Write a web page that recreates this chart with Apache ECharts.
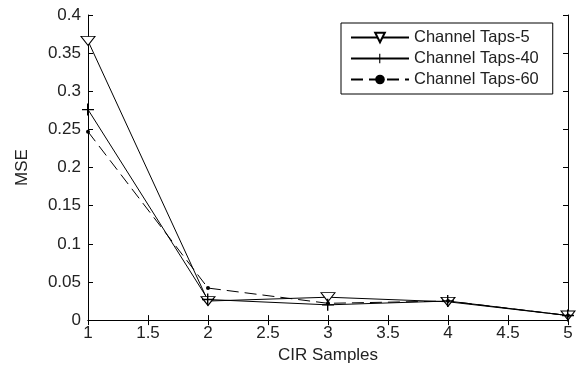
<!DOCTYPE html>
<html>
<head>
<meta charset="utf-8">
<script src="https://cdn.jsdelivr.net/npm/echarts@6/dist/echarts.min.js"></script>
<style>
  html, body { margin: 0; padding: 0; background: #fff; }
  #chart { width: 581px; height: 369px; }
</style>
</head>
<body>
<div id="chart"></div>
<script>
// CIR samples on x
const samples = [1, 2, 3, 4, 5];
// MSE per channel
const taps5 = [0.366, 0.025, 0.03, 0.024, 0.006];
const taps40 = [0.276, 0.027, 0.02, 0.025, 0.006];
const taps60 = [0.247, 0.042, 0.022, 0.025, 0.006];
const names = ['Channel Taps-5', 'Channel Taps-40', 'Channel Taps-60'];

const font = 'Liberation Sans, Arial, sans-serif';
const pair = (ys) => samples.map((x, i) => [x, ys[i]]);
const plus = 'path://M5,0h1.4v5.3h5.6v1.4h-5.6v5.3h-1.4v-5.3h-5v-1.4h5z';

const axisBase = {
  type: 'value',
  axisLine: { show: true, lineStyle: { color: '#000', width: 1 } },
  axisTick: { show: true, inside: true, length: 5, lineStyle: { color: '#000' } },
  splitLine: { show: false }
};
const txt = { fontFamily: font, fontSize: 17, color: '#222' };

const chart = echarts.init(document.getElementById('chart'));
chart.setOption({
  animation: false,
  grid: { left: 88, right: 13, top: 15, bottom: 46 },
  legend: {
    left: 341, top: 23,
    orient: 'vertical',
    backgroundColor: '#fff',
    borderColor: '#000', borderWidth: 1,
    padding: [6, 14, 6, 9],
    itemGap: 4,
    itemWidth: 58, itemHeight: 12,
    textStyle: Object.assign({}, txt, { fontSize: 16.5 }),
    data: names
  },
  xAxis: [
    Object.assign({}, axisBase, {
      min: 1, max: 5, interval: 0.5,
      name: 'CIR Samples', nameLocation: 'middle', nameGap: 25,
      nameTextStyle: txt,
      axisLabel: Object.assign({ margin: 5 }, txt)
    }),
    Object.assign({}, axisBase, {
      position: 'top', min: 1, max: 5, interval: 0.5,
      axisLabel: { show: false }
    })
  ],
  yAxis: [
    Object.assign({}, axisBase, {
      min: 0, max: 0.4, interval: 0.05,
      name: 'MSE', nameLocation: 'middle', nameGap: 57,
      nameTextStyle: txt,
      axisLabel: Object.assign({ margin: 7 }, txt)
    }),
    Object.assign({}, axisBase, {
      position: 'right', min: 0, max: 0.4, interval: 0.05,
      axisLabel: { show: false }
    })
  ],
  series: [
    {
      name: names[0], type: 'line', data: pair(taps5),
      symbol: 'triangle', symbolRotate: 180, symbolSize: [14, 9],
      itemStyle: { color: '#fff', borderColor: '#000', borderWidth: 1 },
      lineStyle: { color: '#000', width: 1 }
    },
    {
      name: names[1], type: 'line', data: pair(taps40),
      symbol: plus, symbolSize: 12,
      itemStyle: { color: '#000', borderWidth: 0 },
      lineStyle: { color: '#000', width: 1 }
    },
    {
      name: names[2], type: 'line', data: pair(taps60),
      symbol: 'circle', symbolSize: 4,
      itemStyle: { color: '#000', borderWidth: 0 },
      lineStyle: { color: '#000', width: 1, type: [12, 6] }
    }
  ]
});
</script>
</body>
</html>
